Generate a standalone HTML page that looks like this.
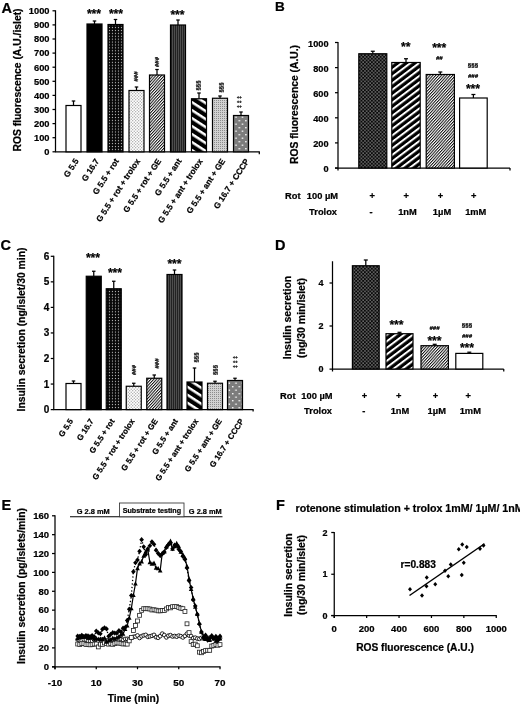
<!DOCTYPE html>
<html><head><meta charset="utf-8"><title>Figure</title>
<style>
html,body{margin:0;padding:0;background:#fff;}
svg{display:block;filter:grayscale(1) blur(0.42px);}
text{font-family:"Liberation Sans", Arial, sans-serif;fill:#000;stroke:#000;stroke-width:0.22px;}
</style></head>
<body>
<svg width="520" height="705" viewBox="0 0 520 705">
<rect width="520" height="705" fill="#fff"/>

<defs>
 <!-- black with white dots -->
 <pattern id="pBlkDot" width="3" height="2.9" patternUnits="userSpaceOnUse">
  <rect width="3" height="2.9" fill="#060606"/><rect x="0.9" y="0.9" width="1.15" height="1.15" fill="#b4b4b4"/>
 </pattern>
 <pattern id="pBlkDot2" width="3.5" height="3.5" patternUnits="userSpaceOnUse">
  <rect width="3.5" height="3.5" fill="#0a0a0a"/><rect x="0.3" y="0.3" width="1.25" height="1.25" fill="#a8a8a8"/><rect x="2.05" y="2.05" width="1.25" height="1.25" fill="#a8a8a8"/>
 </pattern>
 <!-- light dotted -->
 <pattern id="pLtDot" width="3" height="3" patternUnits="userSpaceOnUse">
  <rect width="3" height="3" fill="#fff"/><rect x="0.2" y="0.2" width="1.05" height="1.05" fill="#8a8a8a"/><rect x="1.7" y="1.7" width="1.05" height="1.05" fill="#8a8a8a"/>
 </pattern>
 <!-- thin diagonal hatch /// -->
 <pattern id="pThin" width="10" height="2.1" patternUnits="userSpaceOnUse" patternTransform="rotate(-48)">
  <rect width="10" height="2.1" fill="#fff"/><rect y="0" width="10" height="1.0" fill="#111"/>
 </pattern>
 <!-- dark vertical stripes -->
 <pattern id="pDkV" width="2" height="2" patternUnits="userSpaceOnUse">
  <rect width="2" height="2" fill="#222"/><rect x="0" y="0" width="1" height="2" fill="#4e4e4e"/>
 </pattern>
 <!-- thick diagonal \\ -->
 <pattern id="pThickB" width="10" height="6.7" patternUnits="userSpaceOnUse" patternTransform="rotate(33)">
  <rect width="10" height="6.7" fill="#000"/><rect y="0" width="10" height="2.5" fill="#fff"/>
 </pattern>
 <!-- thick diagonal /// -->
 <pattern id="pThickF" width="10" height="5.2" patternUnits="userSpaceOnUse" patternTransform="rotate(-37)">
  <rect width="10" height="5.2" fill="#000"/><rect y="0" width="10" height="2.0" fill="#fff"/>
 </pattern>
 <!-- light gray dotted -->
 <pattern id="pGrayDot" width="2" height="2" patternUnits="userSpaceOnUse">
  <rect width="2" height="2" fill="#d2d2d2"/><rect x="0" y="0" width="1" height="1" fill="#8c8c8c"/>
 </pattern>
 <!-- gray with white dots -->
 <pattern id="pGrayW" width="6.6" height="7" patternUnits="userSpaceOnUse">
  <rect width="6.6" height="7" fill="#7c7c7c"/><rect x="1" y="1" width="1.4" height="1.4" fill="#fff"/><rect x="4.3" y="4.5" width="1.4" height="1.4" fill="#fff"/>
 </pattern>
</defs>

<text x="1.50" y="13.00" font-size="14.5" text-anchor="start" font-weight="bold">A</text>
<line x1="55.50" y1="10.30" x2="55.50" y2="151.80" stroke="#000" stroke-width="1.25"/>
<line x1="55.00" y1="151.80" x2="259.80" y2="151.80" stroke="#000" stroke-width="1.25"/>
<line x1="259.30" y1="151.80" x2="259.30" y2="154.30" stroke="#000" stroke-width="1.25"/>
<line x1="52.50" y1="151.80" x2="55.50" y2="151.80" stroke="#000" stroke-width="1.25"/>
<text x="49.50" y="155.10" font-size="9.3" text-anchor="end" font-weight="bold">0</text>
<line x1="52.50" y1="137.70" x2="55.50" y2="137.70" stroke="#000" stroke-width="1.25"/>
<text x="49.50" y="141.00" font-size="9.3" text-anchor="end" font-weight="bold">100</text>
<line x1="52.50" y1="123.60" x2="55.50" y2="123.60" stroke="#000" stroke-width="1.25"/>
<text x="49.50" y="126.90" font-size="9.3" text-anchor="end" font-weight="bold">200</text>
<line x1="52.50" y1="109.50" x2="55.50" y2="109.50" stroke="#000" stroke-width="1.25"/>
<text x="49.50" y="112.80" font-size="9.3" text-anchor="end" font-weight="bold">300</text>
<line x1="52.50" y1="95.40" x2="55.50" y2="95.40" stroke="#000" stroke-width="1.25"/>
<text x="49.50" y="98.70" font-size="9.3" text-anchor="end" font-weight="bold">400</text>
<line x1="52.50" y1="81.30" x2="55.50" y2="81.30" stroke="#000" stroke-width="1.25"/>
<text x="49.50" y="84.60" font-size="9.3" text-anchor="end" font-weight="bold">500</text>
<line x1="52.50" y1="67.20" x2="55.50" y2="67.20" stroke="#000" stroke-width="1.25"/>
<text x="49.50" y="70.50" font-size="9.3" text-anchor="end" font-weight="bold">600</text>
<line x1="52.50" y1="53.10" x2="55.50" y2="53.10" stroke="#000" stroke-width="1.25"/>
<text x="49.50" y="56.40" font-size="9.3" text-anchor="end" font-weight="bold">700</text>
<line x1="52.50" y1="39.00" x2="55.50" y2="39.00" stroke="#000" stroke-width="1.25"/>
<text x="49.50" y="42.30" font-size="9.3" text-anchor="end" font-weight="bold">800</text>
<line x1="52.50" y1="24.90" x2="55.50" y2="24.90" stroke="#000" stroke-width="1.25"/>
<text x="49.50" y="28.20" font-size="9.3" text-anchor="end" font-weight="bold">900</text>
<line x1="52.50" y1="10.80" x2="55.50" y2="10.80" stroke="#000" stroke-width="1.25"/>
<text x="49.50" y="14.10" font-size="9.3" text-anchor="end" font-weight="bold">1000</text>
<text x="20.50" y="80.00" font-size="10.35" text-anchor="middle" font-weight="bold" transform="rotate(-90 20.50 80.00)">ROS fluorescence (A.U./islet)</text>
<line x1="73.50" y1="105.50" x2="73.50" y2="101.00" stroke="#000" stroke-width="1.25"/>
<line x1="71.75" y1="101.00" x2="75.25" y2="101.00" stroke="#000" stroke-width="1.25"/>
<rect x="66.00" y="105.50" width="15.00" height="46.30" fill="#fff" stroke="#000" stroke-width="1.2"/>
<text x="79.00" y="161.00" font-size="8.3" text-anchor="end" font-weight="bold" transform="rotate(-57 79.00 161.00)">G 5.5</text>
<line x1="94.50" y1="24.00" x2="94.50" y2="21.00" stroke="#000" stroke-width="1.25"/>
<line x1="92.75" y1="21.00" x2="96.25" y2="21.00" stroke="#000" stroke-width="1.25"/>
<rect x="87.00" y="24.00" width="15.00" height="127.80" fill="#000" stroke="#000" stroke-width="1.2"/>
<text x="99.50" y="161.00" font-size="8.3" text-anchor="end" font-weight="bold" transform="rotate(-57 99.50 161.00)">G 16.7</text>
<line x1="115.50" y1="24.50" x2="115.50" y2="19.50" stroke="#000" stroke-width="1.25"/>
<line x1="113.75" y1="19.50" x2="117.25" y2="19.50" stroke="#000" stroke-width="1.25"/>
<rect x="108.00" y="24.50" width="15.00" height="127.30" fill="url(#pBlkDot)" stroke="#000" stroke-width="1.2"/>
<text x="119.20" y="161.00" font-size="8.3" text-anchor="end" font-weight="bold" transform="rotate(-57 119.20 161.00)">G 5.5 + rot</text>
<line x1="136.50" y1="90.50" x2="136.50" y2="87.00" stroke="#000" stroke-width="1.25"/>
<line x1="134.75" y1="87.00" x2="138.25" y2="87.00" stroke="#000" stroke-width="1.25"/>
<rect x="129.00" y="90.50" width="15.00" height="61.30" fill="url(#pLtDot)" stroke="#000" stroke-width="1.2"/>
<text x="140.40" y="161.00" font-size="8.3" text-anchor="end" font-weight="bold" transform="rotate(-57 140.40 161.00)">G 5.5 + rot + trolox</text>
<line x1="157.00" y1="75.00" x2="157.00" y2="69.50" stroke="#000" stroke-width="1.25"/>
<line x1="155.25" y1="69.50" x2="158.75" y2="69.50" stroke="#000" stroke-width="1.25"/>
<rect x="149.50" y="75.00" width="15.00" height="76.80" fill="url(#pThin)" stroke="#000" stroke-width="1.2"/>
<text x="161.50" y="161.00" font-size="8.3" text-anchor="end" font-weight="bold" transform="rotate(-57 161.50 161.00)">G 5.5 + rot + GE</text>
<line x1="178.00" y1="25.00" x2="178.00" y2="20.00" stroke="#000" stroke-width="1.25"/>
<line x1="176.25" y1="20.00" x2="179.75" y2="20.00" stroke="#000" stroke-width="1.25"/>
<rect x="170.50" y="25.00" width="15.00" height="126.80" fill="url(#pDkV)" stroke="#000" stroke-width="1.2"/>
<text x="181.90" y="161.00" font-size="8.3" text-anchor="end" font-weight="bold" transform="rotate(-57 181.90 161.00)">G 5.5 + ant</text>
<line x1="199.00" y1="98.75" x2="199.00" y2="93.00" stroke="#000" stroke-width="1.25"/>
<line x1="197.25" y1="93.00" x2="200.75" y2="93.00" stroke="#000" stroke-width="1.25"/>
<rect x="191.50" y="98.75" width="15.00" height="53.05" fill="url(#pThickB)" stroke="#000" stroke-width="1.2"/>
<text x="202.90" y="161.00" font-size="8.3" text-anchor="end" font-weight="bold" transform="rotate(-57 202.90 161.00)">G 5.5 + ant + trolox</text>
<line x1="220.00" y1="98.25" x2="220.00" y2="96.00" stroke="#000" stroke-width="1.25"/>
<line x1="218.25" y1="96.00" x2="221.75" y2="96.00" stroke="#000" stroke-width="1.25"/>
<rect x="212.50" y="98.25" width="15.00" height="53.55" fill="url(#pGrayDot)" stroke="#000" stroke-width="1.2"/>
<text x="225.50" y="161.00" font-size="8.3" text-anchor="end" font-weight="bold" transform="rotate(-57 225.50 161.00)">G 5.5 + ant + GE</text>
<line x1="241.00" y1="115.50" x2="241.00" y2="112.00" stroke="#000" stroke-width="1.25"/>
<line x1="239.25" y1="112.00" x2="242.75" y2="112.00" stroke="#000" stroke-width="1.25"/>
<rect x="233.50" y="115.50" width="15.00" height="36.30" fill="url(#pGrayW)" stroke="#000" stroke-width="1.2"/>
<text x="249.50" y="161.00" font-size="8.3" text-anchor="end" font-weight="bold" transform="rotate(-57 249.50 161.00)">G 16.7 + CCCP</text>
<text x="94.00" y="18.00" font-size="12.2" text-anchor="middle" font-weight="bold" stroke-width="0.5">***</text>
<text x="116.00" y="18.00" font-size="12.2" text-anchor="middle" font-weight="bold" stroke-width="0.5">***</text>
<text x="177.50" y="18.50" font-size="12.2" text-anchor="middle" font-weight="bold" stroke-width="0.5">***</text>
<text x="138.00" y="76.50" font-size="6" text-anchor="middle" font-weight="bold" transform="rotate(-90 138.00 76.50)" stroke="none" fill="#222">###</text>
<text x="159.00" y="62.00" font-size="6" text-anchor="middle" font-weight="bold" transform="rotate(-90 159.00 62.00)" stroke="none" fill="#222">###</text>
<text x="199.50" y="85.50" font-size="6" text-anchor="middle" font-weight="bold" transform="rotate(-90 199.50 85.50)" stroke="none" fill="#222">§§§</text>
<text x="222.75" y="87.50" font-size="6" text-anchor="middle" font-weight="bold" transform="rotate(-90 222.75 87.50)" stroke="none" fill="#222">§§§</text>
<text x="241.20" y="101.00" font-size="5" text-anchor="middle" font-weight="bold" transform="rotate(-90 241.20 101.00)" letter-spacing="1.9">‡‡‡</text>
<text x="275.00" y="11.20" font-size="13.5" text-anchor="start" font-weight="bold">B</text>
<line x1="338.00" y1="42.00" x2="338.00" y2="170.50" stroke="#000" stroke-width="1.25"/>
<line x1="335.00" y1="168.00" x2="510.00" y2="168.00" stroke="#000" stroke-width="1.25"/>
<line x1="510.00" y1="168.00" x2="510.00" y2="170.50" stroke="#000" stroke-width="1.25"/>
<line x1="335.00" y1="168.00" x2="338.00" y2="168.00" stroke="#000" stroke-width="1.25"/>
<text x="328.50" y="172.20" font-size="9.2" text-anchor="end" font-weight="bold">0</text>
<line x1="335.00" y1="142.90" x2="338.00" y2="142.90" stroke="#000" stroke-width="1.25"/>
<text x="328.50" y="147.10" font-size="9.2" text-anchor="end" font-weight="bold">200</text>
<line x1="335.00" y1="117.80" x2="338.00" y2="117.80" stroke="#000" stroke-width="1.25"/>
<text x="328.50" y="122.00" font-size="9.2" text-anchor="end" font-weight="bold">400</text>
<line x1="335.00" y1="92.70" x2="338.00" y2="92.70" stroke="#000" stroke-width="1.25"/>
<text x="328.50" y="96.90" font-size="9.2" text-anchor="end" font-weight="bold">600</text>
<line x1="335.00" y1="67.60" x2="338.00" y2="67.60" stroke="#000" stroke-width="1.25"/>
<text x="328.50" y="71.80" font-size="9.2" text-anchor="end" font-weight="bold">800</text>
<line x1="335.00" y1="42.50" x2="338.00" y2="42.50" stroke="#000" stroke-width="1.25"/>
<text x="328.50" y="46.70" font-size="9.2" text-anchor="end" font-weight="bold">1000</text>
<text x="297.80" y="104.50" font-size="10.3" text-anchor="middle" font-weight="bold" transform="rotate(-90 297.80 104.50)">ROS fluorescence (A.U.)</text>
<line x1="372.80" y1="53.75" x2="372.80" y2="51.25" stroke="#000" stroke-width="1.25"/>
<line x1="370.80" y1="51.25" x2="374.80" y2="51.25" stroke="#000" stroke-width="1.25"/>
<rect x="358.80" y="53.75" width="28.00" height="114.25" fill="url(#pBlkDot2)" stroke="#000" stroke-width="1.2"/>
<line x1="406.00" y1="62.50" x2="406.00" y2="58.75" stroke="#000" stroke-width="1.25"/>
<line x1="404.00" y1="58.75" x2="408.00" y2="58.75" stroke="#000" stroke-width="1.25"/>
<rect x="391.80" y="62.50" width="28.40" height="105.50" fill="url(#pThickF)" stroke="#000" stroke-width="1.2"/>
<line x1="440.30" y1="74.50" x2="440.30" y2="72.00" stroke="#000" stroke-width="1.25"/>
<line x1="438.30" y1="72.00" x2="442.30" y2="72.00" stroke="#000" stroke-width="1.25"/>
<rect x="426.20" y="74.50" width="28.20" height="93.50" fill="url(#pThin)" stroke="#000" stroke-width="1.2"/>
<line x1="473.40" y1="98.00" x2="473.40" y2="94.50" stroke="#000" stroke-width="1.25"/>
<line x1="471.40" y1="94.50" x2="475.40" y2="94.50" stroke="#000" stroke-width="1.25"/>
<rect x="459.60" y="98.00" width="27.60" height="70.00" fill="#fff" stroke="#000" stroke-width="1.2"/>
<text x="405.75" y="51.00" font-size="12.2" text-anchor="middle" font-weight="bold" stroke-width="0.5">**</text>
<text x="439.25" y="52.20" font-size="12.2" text-anchor="middle" font-weight="bold" stroke-width="0.5">***</text>
<text x="439.25" y="60.30" font-size="6" text-anchor="middle" font-weight="bold" font-style="italic">##</text>
<text x="473.00" y="66.80" font-size="6.2" text-anchor="middle" font-weight="bold">§§§</text>
<text x="473.00" y="78.30" font-size="6" text-anchor="middle" font-weight="bold" font-style="italic">###</text>
<text x="473.00" y="92.50" font-size="12.2" text-anchor="middle" font-weight="bold" stroke-width="0.5">***</text>
<text x="338.00" y="198.70" font-size="9.3" text-anchor="end" font-weight="bold">100 µM</text>
<text x="285.00" y="198.70" font-size="9.3" text-anchor="start" font-weight="bold">Rot</text>
<text x="337.00" y="214.95" font-size="9.3" text-anchor="end" font-weight="bold">Trolox</text>
<text x="372.25" y="198.50" font-size="9.3" text-anchor="middle" font-weight="bold">+</text>
<text x="406.25" y="198.50" font-size="9.3" text-anchor="middle" font-weight="bold">+</text>
<text x="440.50" y="198.50" font-size="9.3" text-anchor="middle" font-weight="bold">+</text>
<text x="473.75" y="198.50" font-size="9.3" text-anchor="middle" font-weight="bold">+</text>
<text x="371.00" y="214.95" font-size="9.3" text-anchor="middle" font-weight="bold">-</text>
<text x="407.50" y="214.95" font-size="9.3" text-anchor="middle" font-weight="bold">1nM</text>
<text x="442.00" y="214.95" font-size="9.3" text-anchor="middle" font-weight="bold">1µM</text>
<text x="475.75" y="214.95" font-size="9.3" text-anchor="middle" font-weight="bold">1mM</text>
<text x="0.50" y="250.00" font-size="14.5" text-anchor="start" font-weight="bold">C</text>
<line x1="53.75" y1="255.80" x2="53.75" y2="409.60" stroke="#000" stroke-width="1.25"/>
<line x1="53.25" y1="409.60" x2="253.60" y2="409.60" stroke="#000" stroke-width="1.25"/>
<line x1="253.10" y1="409.60" x2="253.10" y2="411.60" stroke="#000" stroke-width="1.25"/>
<line x1="50.75" y1="409.60" x2="53.75" y2="409.60" stroke="#000" stroke-width="1.25"/>
<text x="49.30" y="413.10" font-size="10" text-anchor="end" font-weight="bold">0</text>
<line x1="50.75" y1="384.05" x2="53.75" y2="384.05" stroke="#000" stroke-width="1.25"/>
<text x="49.30" y="387.55" font-size="10" text-anchor="end" font-weight="bold">1</text>
<line x1="50.75" y1="358.50" x2="53.75" y2="358.50" stroke="#000" stroke-width="1.25"/>
<text x="49.30" y="362.00" font-size="10" text-anchor="end" font-weight="bold">2</text>
<line x1="50.75" y1="332.95" x2="53.75" y2="332.95" stroke="#000" stroke-width="1.25"/>
<text x="49.30" y="336.45" font-size="10" text-anchor="end" font-weight="bold">3</text>
<line x1="50.75" y1="307.40" x2="53.75" y2="307.40" stroke="#000" stroke-width="1.25"/>
<text x="49.30" y="310.90" font-size="10" text-anchor="end" font-weight="bold">4</text>
<line x1="50.75" y1="281.85" x2="53.75" y2="281.85" stroke="#000" stroke-width="1.25"/>
<text x="49.30" y="285.35" font-size="10" text-anchor="end" font-weight="bold">5</text>
<line x1="50.75" y1="256.30" x2="53.75" y2="256.30" stroke="#000" stroke-width="1.25"/>
<text x="49.30" y="259.80" font-size="10" text-anchor="end" font-weight="bold">6</text>
<text x="24.70" y="329.50" font-size="10.35" text-anchor="middle" font-weight="bold" transform="rotate(-90 24.70 329.50)">Insulin secretion (ng/islet/30 min)</text>
<line x1="73.50" y1="383.50" x2="73.50" y2="381.00" stroke="#000" stroke-width="1.25"/>
<line x1="71.75" y1="381.00" x2="75.25" y2="381.00" stroke="#000" stroke-width="1.25"/>
<rect x="66.00" y="383.50" width="15.00" height="26.10" fill="#fff" stroke="#000" stroke-width="1.2"/>
<text x="73.50" y="421.10" font-size="8.0" text-anchor="end" font-weight="bold" transform="rotate(-57 73.50 421.10)">G 5.5</text>
<line x1="93.75" y1="276.25" x2="93.75" y2="271.25" stroke="#000" stroke-width="1.25"/>
<line x1="92.00" y1="271.25" x2="95.50" y2="271.25" stroke="#000" stroke-width="1.25"/>
<rect x="86.25" y="276.25" width="15.00" height="133.35" fill="#000" stroke="#000" stroke-width="1.2"/>
<text x="94.05" y="421.10" font-size="8.0" text-anchor="end" font-weight="bold" transform="rotate(-57 94.05 421.10)">G 16.7</text>
<line x1="113.75" y1="288.75" x2="113.75" y2="281.25" stroke="#000" stroke-width="1.25"/>
<line x1="112.00" y1="281.25" x2="115.50" y2="281.25" stroke="#000" stroke-width="1.25"/>
<rect x="106.25" y="288.75" width="15.00" height="120.85" fill="url(#pBlkDot)" stroke="#000" stroke-width="1.2"/>
<text x="114.95" y="421.10" font-size="8.0" text-anchor="end" font-weight="bold" transform="rotate(-57 114.95 421.10)">G 5.5 + rot</text>
<line x1="133.75" y1="386.25" x2="133.75" y2="383.25" stroke="#000" stroke-width="1.25"/>
<line x1="132.00" y1="383.25" x2="135.50" y2="383.25" stroke="#000" stroke-width="1.25"/>
<rect x="126.25" y="386.25" width="15.00" height="23.35" fill="url(#pLtDot)" stroke="#000" stroke-width="1.2"/>
<text x="134.95" y="421.10" font-size="8.0" text-anchor="end" font-weight="bold" transform="rotate(-57 134.95 421.10)">G 5.5 + rot + trolox</text>
<line x1="154.25" y1="378.25" x2="154.25" y2="375.00" stroke="#000" stroke-width="1.25"/>
<line x1="152.50" y1="375.00" x2="156.00" y2="375.00" stroke="#000" stroke-width="1.25"/>
<rect x="146.75" y="378.25" width="15.00" height="31.35" fill="url(#pThin)" stroke="#000" stroke-width="1.2"/>
<text x="158.05" y="421.10" font-size="8.0" text-anchor="end" font-weight="bold" transform="rotate(-57 158.05 421.10)">G 5.5 + rot + GE</text>
<line x1="174.50" y1="274.50" x2="174.50" y2="270.00" stroke="#000" stroke-width="1.25"/>
<line x1="172.75" y1="270.00" x2="176.25" y2="270.00" stroke="#000" stroke-width="1.25"/>
<rect x="167.00" y="274.50" width="15.00" height="135.10" fill="url(#pDkV)" stroke="#000" stroke-width="1.2"/>
<text x="178.30" y="421.10" font-size="8.0" text-anchor="end" font-weight="bold" transform="rotate(-57 178.30 421.10)">G 5.5 + ant</text>
<line x1="194.50" y1="382.00" x2="194.50" y2="368.00" stroke="#000" stroke-width="1.25"/>
<line x1="192.75" y1="368.00" x2="196.25" y2="368.00" stroke="#000" stroke-width="1.25"/>
<rect x="187.00" y="382.00" width="15.00" height="27.60" fill="url(#pThickB)" stroke="#000" stroke-width="1.2"/>
<text x="198.70" y="421.10" font-size="8.0" text-anchor="end" font-weight="bold" transform="rotate(-57 198.70 421.10)">G 5.5 + ant + trolox</text>
<line x1="215.00" y1="383.25" x2="215.00" y2="381.25" stroke="#000" stroke-width="1.25"/>
<line x1="213.25" y1="381.25" x2="216.75" y2="381.25" stroke="#000" stroke-width="1.25"/>
<rect x="207.50" y="383.25" width="15.00" height="26.35" fill="url(#pGrayDot)" stroke="#000" stroke-width="1.2"/>
<text x="222.20" y="421.10" font-size="8.0" text-anchor="end" font-weight="bold" transform="rotate(-57 222.20 421.10)">G 5.5 + ant + GE</text>
<line x1="235.00" y1="380.50" x2="235.00" y2="378.25" stroke="#000" stroke-width="1.25"/>
<line x1="233.25" y1="378.25" x2="236.75" y2="378.25" stroke="#000" stroke-width="1.25"/>
<rect x="227.50" y="380.50" width="15.00" height="29.10" fill="url(#pGrayW)" stroke="#000" stroke-width="1.2"/>
<text x="244.20" y="421.10" font-size="8.0" text-anchor="end" font-weight="bold" transform="rotate(-57 244.20 421.10)">G 16.7 + CCCP</text>
<text x="93.00" y="262.00" font-size="12.2" text-anchor="middle" font-weight="bold" stroke-width="0.5">***</text>
<text x="115.00" y="277.00" font-size="12.2" text-anchor="middle" font-weight="bold" stroke-width="0.5">***</text>
<text x="174.50" y="267.50" font-size="12.2" text-anchor="middle" font-weight="bold" stroke-width="0.5">***</text>
<text x="136.20" y="370.00" font-size="6" text-anchor="middle" font-weight="bold" transform="rotate(-90 136.20 370.00)" stroke="none" fill="#222">###</text>
<text x="159.00" y="363.50" font-size="6" text-anchor="middle" font-weight="bold" transform="rotate(-90 159.00 363.50)" stroke="none" fill="#222">###</text>
<text x="198.25" y="357.50" font-size="6" text-anchor="middle" font-weight="bold" transform="rotate(-90 198.25 357.50)" stroke="none" fill="#222">§§§</text>
<text x="217.00" y="370.00" font-size="6" text-anchor="middle" font-weight="bold" transform="rotate(-90 217.00 370.00)" stroke="none" fill="#222">§§§</text>
<text x="236.70" y="361.00" font-size="5" text-anchor="middle" font-weight="bold" transform="rotate(-90 236.70 361.00)" letter-spacing="1.9">‡‡‡</text>
<text x="275.00" y="250.00" font-size="14.5" text-anchor="start" font-weight="bold">D</text>
<line x1="332.50" y1="261.25" x2="332.50" y2="371.50" stroke="#000" stroke-width="1.25"/>
<line x1="329.50" y1="369.00" x2="503.75" y2="369.00" stroke="#000" stroke-width="1.25"/>
<line x1="503.75" y1="369.00" x2="503.75" y2="371.50" stroke="#000" stroke-width="1.25"/>
<line x1="329.50" y1="326.00" x2="332.50" y2="326.00" stroke="#000" stroke-width="1.25"/>
<text x="323.50" y="329.20" font-size="9" text-anchor="end" font-weight="bold">2</text>
<line x1="329.50" y1="283.00" x2="332.50" y2="283.00" stroke="#000" stroke-width="1.25"/>
<text x="323.50" y="286.20" font-size="9" text-anchor="end" font-weight="bold">4</text>
<text x="323.50" y="372.20" font-size="9" text-anchor="end" font-weight="bold">0</text>
<text x="291.30" y="317.50" font-size="10.5" text-anchor="middle" font-weight="bold" transform="rotate(-90 291.30 317.50)">Insulin secretion</text>
<text x="304.60" y="318.00" font-size="10.5" text-anchor="middle" font-weight="bold" transform="rotate(-90 304.60 318.00)">(ng/30 min/islet)</text>
<line x1="365.80" y1="265.75" x2="365.80" y2="260.00" stroke="#000" stroke-width="1.25"/>
<line x1="363.80" y1="260.00" x2="367.80" y2="260.00" stroke="#000" stroke-width="1.25"/>
<rect x="352.40" y="265.75" width="26.80" height="103.25" fill="url(#pBlkDot2)" stroke="#000" stroke-width="1.2"/>
<line x1="399.50" y1="333.70" x2="399.50" y2="332.30" stroke="#000" stroke-width="1.25"/>
<line x1="397.50" y1="332.30" x2="401.50" y2="332.30" stroke="#000" stroke-width="1.25"/>
<rect x="386.00" y="333.70" width="27.00" height="35.30" fill="url(#pThickF)" stroke="#000" stroke-width="1.2"/>
<line x1="434.70" y1="345.70" x2="434.70" y2="344.30" stroke="#000" stroke-width="1.25"/>
<line x1="432.70" y1="344.30" x2="436.70" y2="344.30" stroke="#000" stroke-width="1.25"/>
<rect x="421.00" y="345.70" width="27.40" height="23.30" fill="url(#pThin)" stroke="#000" stroke-width="1.2"/>
<line x1="469.30" y1="353.40" x2="469.30" y2="352.20" stroke="#000" stroke-width="1.25"/>
<line x1="467.30" y1="352.20" x2="471.30" y2="352.20" stroke="#000" stroke-width="1.25"/>
<rect x="455.80" y="353.40" width="27.00" height="15.60" fill="#fff" stroke="#000" stroke-width="1.2"/>
<text x="396.50" y="329.20" font-size="12.2" text-anchor="middle" font-weight="bold" stroke-width="0.5">***</text>
<text x="434.50" y="329.50" font-size="6" text-anchor="middle" font-weight="bold" font-style="italic">###</text>
<text x="434.50" y="345.40" font-size="12.2" text-anchor="middle" font-weight="bold" stroke-width="0.5">***</text>
<text x="467.00" y="327.00" font-size="6.2" text-anchor="middle" font-weight="bold">§§§</text>
<text x="467.00" y="338.30" font-size="6" text-anchor="middle" font-weight="bold" font-style="italic">###</text>
<text x="467.00" y="352.40" font-size="12.2" text-anchor="middle" font-weight="bold" stroke-width="0.5">***</text>
<text x="332.50" y="398.95" font-size="9.3" text-anchor="end" font-weight="bold">100 µM</text>
<text x="280.00" y="398.95" font-size="9.3" text-anchor="start" font-weight="bold">Rot</text>
<text x="332.00" y="414.45" font-size="9.3" text-anchor="end" font-weight="bold">Trolox</text>
<text x="364.50" y="398.75" font-size="9.3" text-anchor="middle" font-weight="bold">+</text>
<text x="398.75" y="398.75" font-size="9.3" text-anchor="middle" font-weight="bold">+</text>
<text x="435.50" y="398.75" font-size="9.3" text-anchor="middle" font-weight="bold">+</text>
<text x="468.25" y="398.75" font-size="9.3" text-anchor="middle" font-weight="bold">+</text>
<text x="363.75" y="414.45" font-size="9.3" text-anchor="middle" font-weight="bold">-</text>
<text x="400.00" y="414.45" font-size="9.3" text-anchor="middle" font-weight="bold">1nM</text>
<text x="436.75" y="414.45" font-size="9.3" text-anchor="middle" font-weight="bold">1µM</text>
<text x="470.30" y="414.45" font-size="9.3" text-anchor="middle" font-weight="bold">1mM</text>
<text x="1.50" y="510.00" font-size="14.5" text-anchor="start" font-weight="bold">E</text>
<line x1="55.00" y1="515.29" x2="55.00" y2="669.25" stroke="#000" stroke-width="1.25"/>
<line x1="52.00" y1="666.75" x2="220.50" y2="666.75" stroke="#000" stroke-width="1.25"/>
<line x1="52.00" y1="666.75" x2="55.00" y2="666.75" stroke="#000" stroke-width="1.25"/>
<text x="49.00" y="670.05" font-size="9.5" text-anchor="end" font-weight="bold">0</text>
<line x1="52.00" y1="647.88" x2="55.00" y2="647.88" stroke="#000" stroke-width="1.25"/>
<text x="49.00" y="651.18" font-size="9.5" text-anchor="end" font-weight="bold">20</text>
<line x1="52.00" y1="629.01" x2="55.00" y2="629.01" stroke="#000" stroke-width="1.25"/>
<text x="49.00" y="632.31" font-size="9.5" text-anchor="end" font-weight="bold">40</text>
<line x1="52.00" y1="610.14" x2="55.00" y2="610.14" stroke="#000" stroke-width="1.25"/>
<text x="49.00" y="613.44" font-size="9.5" text-anchor="end" font-weight="bold">60</text>
<line x1="52.00" y1="591.27" x2="55.00" y2="591.27" stroke="#000" stroke-width="1.25"/>
<text x="49.00" y="594.57" font-size="9.5" text-anchor="end" font-weight="bold">80</text>
<line x1="52.00" y1="572.40" x2="55.00" y2="572.40" stroke="#000" stroke-width="1.25"/>
<text x="49.00" y="575.70" font-size="9.5" text-anchor="end" font-weight="bold">100</text>
<line x1="52.00" y1="553.53" x2="55.00" y2="553.53" stroke="#000" stroke-width="1.25"/>
<text x="49.00" y="556.83" font-size="9.5" text-anchor="end" font-weight="bold">120</text>
<line x1="52.00" y1="534.66" x2="55.00" y2="534.66" stroke="#000" stroke-width="1.25"/>
<text x="49.00" y="537.96" font-size="9.5" text-anchor="end" font-weight="bold">140</text>
<line x1="52.00" y1="515.79" x2="55.00" y2="515.79" stroke="#000" stroke-width="1.25"/>
<text x="49.00" y="519.09" font-size="9.5" text-anchor="end" font-weight="bold">160</text>
<line x1="55.00" y1="666.75" x2="55.00" y2="669.25" stroke="#000" stroke-width="1.25"/>
<text x="55.00" y="686.00" font-size="9.9" text-anchor="middle" font-weight="bold">-10</text>
<line x1="96.25" y1="666.75" x2="96.25" y2="669.25" stroke="#000" stroke-width="1.25"/>
<text x="96.25" y="686.00" font-size="9.9" text-anchor="middle" font-weight="bold">10</text>
<line x1="137.50" y1="666.75" x2="137.50" y2="669.25" stroke="#000" stroke-width="1.25"/>
<text x="137.50" y="686.00" font-size="9.9" text-anchor="middle" font-weight="bold">30</text>
<line x1="178.75" y1="666.75" x2="178.75" y2="669.25" stroke="#000" stroke-width="1.25"/>
<text x="178.75" y="686.00" font-size="9.9" text-anchor="middle" font-weight="bold">50</text>
<line x1="220.00" y1="666.75" x2="220.00" y2="669.25" stroke="#000" stroke-width="1.25"/>
<text x="220.00" y="686.00" font-size="9.9" text-anchor="middle" font-weight="bold">70</text>
<text x="133.50" y="702.00" font-size="10.2" text-anchor="middle" font-weight="bold">Time (min)</text>
<text x="24.70" y="586.00" font-size="10.4" text-anchor="middle" font-weight="bold" transform="rotate(-90 24.70 586.00)">Insulin secretion (pg/islets/min)</text>
<line x1="70.00" y1="516.75" x2="222.50" y2="516.75" stroke="#000" stroke-width="1"/>
<rect x="119.5" y="503" width="64.5" height="13.75" fill="#fff" stroke="#333" stroke-width="0.85"/>
<text x="93.25" y="514.30" font-size="7.4" text-anchor="middle" font-weight="bold">G 2.8 mM</text>
<text x="151.90" y="512.50" font-size="7.15" text-anchor="middle" font-weight="bold">Substrate testing</text>
<text x="205.30" y="514.30" font-size="7.4" text-anchor="middle" font-weight="bold">G 2.8 mM</text>
<circle cx="77.69" cy="639.53" r="1.9" fill="#fff" stroke="#000" stroke-width="0.85"/>
<circle cx="79.75" cy="640.51" r="1.9" fill="#fff" stroke="#000" stroke-width="0.85"/>
<circle cx="81.81" cy="640.50" r="1.9" fill="#fff" stroke="#000" stroke-width="0.85"/>
<circle cx="83.88" cy="639.57" r="1.9" fill="#fff" stroke="#000" stroke-width="0.85"/>
<circle cx="85.94" cy="639.95" r="1.9" fill="#fff" stroke="#000" stroke-width="0.85"/>
<circle cx="88.00" cy="640.89" r="1.9" fill="#fff" stroke="#000" stroke-width="0.85"/>
<circle cx="90.06" cy="640.97" r="1.9" fill="#fff" stroke="#000" stroke-width="0.85"/>
<circle cx="92.12" cy="640.92" r="1.9" fill="#fff" stroke="#000" stroke-width="0.85"/>
<circle cx="94.19" cy="639.64" r="1.9" fill="#fff" stroke="#000" stroke-width="0.85"/>
<circle cx="96.25" cy="639.81" r="1.9" fill="#fff" stroke="#000" stroke-width="0.85"/>
<circle cx="98.31" cy="640.93" r="1.9" fill="#fff" stroke="#000" stroke-width="0.85"/>
<circle cx="100.38" cy="639.78" r="1.9" fill="#fff" stroke="#000" stroke-width="0.85"/>
<circle cx="102.44" cy="639.52" r="1.9" fill="#fff" stroke="#000" stroke-width="0.85"/>
<circle cx="104.50" cy="640.06" r="1.9" fill="#fff" stroke="#000" stroke-width="0.85"/>
<circle cx="106.56" cy="640.59" r="1.9" fill="#fff" stroke="#000" stroke-width="0.85"/>
<circle cx="108.62" cy="640.25" r="1.9" fill="#fff" stroke="#000" stroke-width="0.85"/>
<circle cx="110.69" cy="640.96" r="1.9" fill="#fff" stroke="#000" stroke-width="0.85"/>
<circle cx="112.75" cy="641.16" r="1.9" fill="#fff" stroke="#000" stroke-width="0.85"/>
<circle cx="114.81" cy="639.53" r="1.9" fill="#fff" stroke="#000" stroke-width="0.85"/>
<circle cx="116.88" cy="640.08" r="1.9" fill="#fff" stroke="#000" stroke-width="0.85"/>
<circle cx="118.94" cy="640.10" r="1.9" fill="#fff" stroke="#000" stroke-width="0.85"/>
<circle cx="121.00" cy="639.22" r="1.9" fill="#fff" stroke="#000" stroke-width="0.85"/>
<circle cx="123.06" cy="639.88" r="1.9" fill="#fff" stroke="#000" stroke-width="0.85"/>
<circle cx="125.12" cy="638.95" r="1.9" fill="#fff" stroke="#000" stroke-width="0.85"/>
<circle cx="127.19" cy="638.83" r="1.9" fill="#fff" stroke="#000" stroke-width="0.85"/>
<circle cx="129.25" cy="638.94" r="1.9" fill="#fff" stroke="#000" stroke-width="0.85"/>
<circle cx="131.31" cy="637.92" r="1.9" fill="#fff" stroke="#000" stroke-width="0.85"/>
<circle cx="133.38" cy="636.91" r="1.9" fill="#fff" stroke="#000" stroke-width="0.85"/>
<circle cx="135.44" cy="636.53" r="1.9" fill="#fff" stroke="#000" stroke-width="0.85"/>
<circle cx="137.50" cy="635.47" r="1.9" fill="#fff" stroke="#000" stroke-width="0.85"/>
<circle cx="139.56" cy="637.91" r="1.9" fill="#fff" stroke="#000" stroke-width="0.85"/>
<circle cx="141.62" cy="636.22" r="1.9" fill="#fff" stroke="#000" stroke-width="0.85"/>
<circle cx="143.69" cy="635.30" r="1.9" fill="#fff" stroke="#000" stroke-width="0.85"/>
<circle cx="145.75" cy="634.92" r="1.9" fill="#fff" stroke="#000" stroke-width="0.85"/>
<circle cx="147.81" cy="636.81" r="1.9" fill="#fff" stroke="#000" stroke-width="0.85"/>
<circle cx="149.88" cy="636.31" r="1.9" fill="#fff" stroke="#000" stroke-width="0.85"/>
<circle cx="151.94" cy="635.79" r="1.9" fill="#fff" stroke="#000" stroke-width="0.85"/>
<circle cx="154.00" cy="634.93" r="1.9" fill="#fff" stroke="#000" stroke-width="0.85"/>
<circle cx="156.06" cy="637.16" r="1.9" fill="#fff" stroke="#000" stroke-width="0.85"/>
<circle cx="158.12" cy="637.74" r="1.9" fill="#fff" stroke="#000" stroke-width="0.85"/>
<circle cx="160.19" cy="636.08" r="1.9" fill="#fff" stroke="#000" stroke-width="0.85"/>
<circle cx="162.25" cy="633.67" r="1.9" fill="#fff" stroke="#000" stroke-width="0.85"/>
<circle cx="164.31" cy="635.10" r="1.9" fill="#fff" stroke="#000" stroke-width="0.85"/>
<circle cx="166.38" cy="637.38" r="1.9" fill="#fff" stroke="#000" stroke-width="0.85"/>
<circle cx="168.44" cy="635.72" r="1.9" fill="#fff" stroke="#000" stroke-width="0.85"/>
<circle cx="170.50" cy="635.21" r="1.9" fill="#fff" stroke="#000" stroke-width="0.85"/>
<circle cx="172.56" cy="636.46" r="1.9" fill="#fff" stroke="#000" stroke-width="0.85"/>
<circle cx="174.62" cy="636.05" r="1.9" fill="#fff" stroke="#000" stroke-width="0.85"/>
<circle cx="176.69" cy="636.64" r="1.9" fill="#fff" stroke="#000" stroke-width="0.85"/>
<circle cx="178.75" cy="635.66" r="1.9" fill="#fff" stroke="#000" stroke-width="0.85"/>
<circle cx="180.81" cy="636.18" r="1.9" fill="#fff" stroke="#000" stroke-width="0.85"/>
<circle cx="182.88" cy="637.41" r="1.9" fill="#fff" stroke="#000" stroke-width="0.85"/>
<circle cx="184.94" cy="635.91" r="1.9" fill="#fff" stroke="#000" stroke-width="0.85"/>
<circle cx="187.00" cy="633.70" r="1.9" fill="#fff" stroke="#000" stroke-width="0.85"/>
<circle cx="189.06" cy="635.52" r="1.9" fill="#fff" stroke="#000" stroke-width="0.85"/>
<circle cx="191.12" cy="636.08" r="1.9" fill="#fff" stroke="#000" stroke-width="0.85"/>
<circle cx="193.19" cy="638.17" r="1.9" fill="#fff" stroke="#000" stroke-width="0.85"/>
<circle cx="195.25" cy="637.71" r="1.9" fill="#fff" stroke="#000" stroke-width="0.85"/>
<circle cx="197.31" cy="638.56" r="1.9" fill="#fff" stroke="#000" stroke-width="0.85"/>
<circle cx="199.38" cy="638.82" r="1.9" fill="#fff" stroke="#000" stroke-width="0.85"/>
<circle cx="201.44" cy="637.98" r="1.9" fill="#fff" stroke="#000" stroke-width="0.85"/>
<circle cx="203.50" cy="638.43" r="1.9" fill="#fff" stroke="#000" stroke-width="0.85"/>
<circle cx="205.56" cy="638.34" r="1.9" fill="#fff" stroke="#000" stroke-width="0.85"/>
<circle cx="207.62" cy="638.00" r="1.9" fill="#fff" stroke="#000" stroke-width="0.85"/>
<circle cx="209.69" cy="637.74" r="1.9" fill="#fff" stroke="#000" stroke-width="0.85"/>
<circle cx="211.75" cy="638.54" r="1.9" fill="#fff" stroke="#000" stroke-width="0.85"/>
<circle cx="213.81" cy="638.25" r="1.9" fill="#fff" stroke="#000" stroke-width="0.85"/>
<circle cx="215.88" cy="638.44" r="1.9" fill="#fff" stroke="#000" stroke-width="0.85"/>
<circle cx="217.94" cy="638.42" r="1.9" fill="#fff" stroke="#000" stroke-width="0.85"/>
<circle cx="220.00" cy="638.12" r="1.9" fill="#fff" stroke="#000" stroke-width="0.85"/>
<rect x="75.74" y="642.08" width="3.9" height="3.9" fill="#fff" stroke="#222" stroke-width="0.8"/>
<rect x="77.80" y="642.63" width="3.9" height="3.9" fill="#fff" stroke="#222" stroke-width="0.8"/>
<rect x="79.86" y="641.72" width="3.9" height="3.9" fill="#fff" stroke="#222" stroke-width="0.8"/>
<rect x="81.92" y="641.69" width="3.9" height="3.9" fill="#fff" stroke="#222" stroke-width="0.8"/>
<rect x="83.99" y="642.68" width="3.9" height="3.9" fill="#fff" stroke="#222" stroke-width="0.8"/>
<rect x="86.05" y="642.46" width="3.9" height="3.9" fill="#fff" stroke="#222" stroke-width="0.8"/>
<rect x="88.11" y="642.88" width="3.9" height="3.9" fill="#fff" stroke="#222" stroke-width="0.8"/>
<rect x="90.17" y="642.66" width="3.9" height="3.9" fill="#fff" stroke="#222" stroke-width="0.8"/>
<rect x="92.24" y="642.11" width="3.9" height="3.9" fill="#fff" stroke="#222" stroke-width="0.8"/>
<rect x="94.30" y="642.04" width="3.9" height="3.9" fill="#fff" stroke="#222" stroke-width="0.8"/>
<rect x="96.36" y="644.96" width="3.9" height="3.9" fill="#fff" stroke="#222" stroke-width="0.8"/>
<rect x="98.42" y="642.20" width="3.9" height="3.9" fill="#fff" stroke="#222" stroke-width="0.8"/>
<rect x="100.49" y="642.40" width="3.9" height="3.9" fill="#fff" stroke="#222" stroke-width="0.8"/>
<rect x="102.55" y="641.00" width="3.9" height="3.9" fill="#fff" stroke="#222" stroke-width="0.8"/>
<rect x="104.61" y="641.64" width="3.9" height="3.9" fill="#fff" stroke="#222" stroke-width="0.8"/>
<rect x="106.67" y="642.22" width="3.9" height="3.9" fill="#fff" stroke="#222" stroke-width="0.8"/>
<rect x="108.74" y="641.62" width="3.9" height="3.9" fill="#fff" stroke="#222" stroke-width="0.8"/>
<rect x="110.80" y="642.40" width="3.9" height="3.9" fill="#fff" stroke="#222" stroke-width="0.8"/>
<rect x="112.86" y="641.64" width="3.9" height="3.9" fill="#fff" stroke="#222" stroke-width="0.8"/>
<rect x="114.92" y="640.96" width="3.9" height="3.9" fill="#fff" stroke="#222" stroke-width="0.8"/>
<rect x="116.99" y="641.14" width="3.9" height="3.9" fill="#fff" stroke="#222" stroke-width="0.8"/>
<rect x="119.05" y="641.39" width="3.9" height="3.9" fill="#fff" stroke="#222" stroke-width="0.8"/>
<rect x="121.11" y="642.04" width="3.9" height="3.9" fill="#fff" stroke="#222" stroke-width="0.8"/>
<rect x="123.17" y="641.89" width="3.9" height="3.9" fill="#fff" stroke="#222" stroke-width="0.8"/>
<rect x="125.24" y="642.19" width="3.9" height="3.9" fill="#fff" stroke="#222" stroke-width="0.8"/>
<rect x="127.30" y="638.91" width="3.9" height="3.9" fill="#fff" stroke="#222" stroke-width="0.8"/>
<rect x="129.36" y="635.50" width="3.9" height="3.9" fill="#fff" stroke="#222" stroke-width="0.8"/>
<rect x="131.43" y="628.53" width="3.9" height="3.9" fill="#fff" stroke="#222" stroke-width="0.8"/>
<rect x="133.49" y="623.54" width="3.9" height="3.9" fill="#fff" stroke="#222" stroke-width="0.8"/>
<rect x="135.55" y="618.99" width="3.9" height="3.9" fill="#fff" stroke="#222" stroke-width="0.8"/>
<rect x="137.61" y="613.38" width="3.9" height="3.9" fill="#fff" stroke="#222" stroke-width="0.8"/>
<rect x="139.68" y="608.40" width="3.9" height="3.9" fill="#fff" stroke="#222" stroke-width="0.8"/>
<rect x="141.74" y="606.71" width="3.9" height="3.9" fill="#fff" stroke="#222" stroke-width="0.8"/>
<rect x="143.80" y="606.78" width="3.9" height="3.9" fill="#fff" stroke="#222" stroke-width="0.8"/>
<rect x="145.86" y="606.77" width="3.9" height="3.9" fill="#fff" stroke="#222" stroke-width="0.8"/>
<rect x="147.93" y="607.07" width="3.9" height="3.9" fill="#fff" stroke="#222" stroke-width="0.8"/>
<rect x="149.99" y="608.04" width="3.9" height="3.9" fill="#fff" stroke="#222" stroke-width="0.8"/>
<rect x="152.05" y="607.79" width="3.9" height="3.9" fill="#fff" stroke="#222" stroke-width="0.8"/>
<rect x="154.11" y="608.22" width="3.9" height="3.9" fill="#fff" stroke="#222" stroke-width="0.8"/>
<rect x="156.18" y="608.90" width="3.9" height="3.9" fill="#fff" stroke="#222" stroke-width="0.8"/>
<rect x="158.24" y="608.90" width="3.9" height="3.9" fill="#fff" stroke="#222" stroke-width="0.8"/>
<rect x="160.30" y="608.52" width="3.9" height="3.9" fill="#fff" stroke="#222" stroke-width="0.8"/>
<rect x="162.36" y="608.55" width="3.9" height="3.9" fill="#fff" stroke="#222" stroke-width="0.8"/>
<rect x="164.43" y="606.96" width="3.9" height="3.9" fill="#fff" stroke="#222" stroke-width="0.8"/>
<rect x="166.49" y="605.61" width="3.9" height="3.9" fill="#fff" stroke="#222" stroke-width="0.8"/>
<rect x="168.55" y="605.91" width="3.9" height="3.9" fill="#fff" stroke="#222" stroke-width="0.8"/>
<rect x="170.61" y="604.70" width="3.9" height="3.9" fill="#fff" stroke="#222" stroke-width="0.8"/>
<rect x="172.68" y="604.62" width="3.9" height="3.9" fill="#fff" stroke="#222" stroke-width="0.8"/>
<rect x="174.74" y="604.67" width="3.9" height="3.9" fill="#fff" stroke="#222" stroke-width="0.8"/>
<rect x="176.80" y="605.56" width="3.9" height="3.9" fill="#fff" stroke="#222" stroke-width="0.8"/>
<rect x="178.86" y="606.25" width="3.9" height="3.9" fill="#fff" stroke="#222" stroke-width="0.8"/>
<rect x="180.93" y="606.72" width="3.9" height="3.9" fill="#fff" stroke="#222" stroke-width="0.8"/>
<rect x="182.99" y="609.59" width="3.9" height="3.9" fill="#fff" stroke="#222" stroke-width="0.8"/>
<rect x="185.05" y="621.85" width="3.9" height="3.9" fill="#fff" stroke="#222" stroke-width="0.8"/>
<rect x="187.11" y="630.65" width="3.9" height="3.9" fill="#fff" stroke="#222" stroke-width="0.8"/>
<rect x="189.18" y="639.66" width="3.9" height="3.9" fill="#fff" stroke="#222" stroke-width="0.8"/>
<rect x="191.24" y="642.59" width="3.9" height="3.9" fill="#fff" stroke="#222" stroke-width="0.8"/>
<rect x="193.30" y="642.19" width="3.9" height="3.9" fill="#fff" stroke="#222" stroke-width="0.8"/>
<rect x="195.36" y="643.81" width="3.9" height="3.9" fill="#fff" stroke="#222" stroke-width="0.8"/>
<rect x="197.43" y="650.20" width="3.9" height="3.9" fill="#fff" stroke="#222" stroke-width="0.8"/>
<rect x="199.49" y="650.80" width="3.9" height="3.9" fill="#fff" stroke="#222" stroke-width="0.8"/>
<rect x="201.55" y="649.46" width="3.9" height="3.9" fill="#fff" stroke="#222" stroke-width="0.8"/>
<rect x="203.61" y="648.61" width="3.9" height="3.9" fill="#fff" stroke="#222" stroke-width="0.8"/>
<rect x="205.68" y="648.33" width="3.9" height="3.9" fill="#fff" stroke="#222" stroke-width="0.8"/>
<rect x="207.74" y="648.38" width="3.9" height="3.9" fill="#fff" stroke="#222" stroke-width="0.8"/>
<rect x="209.80" y="644.08" width="3.9" height="3.9" fill="#fff" stroke="#222" stroke-width="0.8"/>
<rect x="211.86" y="643.58" width="3.9" height="3.9" fill="#fff" stroke="#222" stroke-width="0.8"/>
<rect x="213.93" y="642.66" width="3.9" height="3.9" fill="#fff" stroke="#222" stroke-width="0.8"/>
<rect x="215.99" y="643.35" width="3.9" height="3.9" fill="#fff" stroke="#222" stroke-width="0.8"/>
<rect x="218.05" y="642.65" width="3.9" height="3.9" fill="#fff" stroke="#222" stroke-width="0.8"/>
<polyline fill="none" stroke="#000" stroke-width="1.3" stroke-dasharray="1.3 2.2" points="77.69,636.03 79.75,636.44 81.81,635.26 83.88,636.62 85.94,635.53 88.00,635.93 90.06,636.66 92.12,635.60 94.19,636.71 96.25,631.05 98.31,632.86 100.38,633.75 102.44,629.19 104.50,627.77 106.56,628.95 108.62,636.27 110.69,634.37 112.75,632.67 114.81,633.07 116.88,633.03 118.94,630.72 121.00,631.97 123.06,628.16 125.12,627.62 127.19,620.41 129.25,609.15 131.31,595.50 133.38,571.65 135.44,562.77 137.50,559.94 139.56,551.32 141.62,539.68 143.69,546.81 145.75,554.56 147.81,548.91 149.88,545.73 151.94,541.78 154.00,544.27 156.06,550.19 158.12,553.33 160.19,555.53 162.25,554.00 164.31,551.89 166.38,547.40 168.44,544.70 170.50,542.98 172.56,548.75 174.62,545.10 176.69,545.44 178.75,549.31 180.81,551.45 182.88,556.32 184.94,559.38 187.00,568.02 189.06,580.77 191.12,587.52 193.19,599.90 195.25,605.97 197.31,614.23 199.38,624.12 201.44,631.90 203.50,637.94 205.56,635.15 207.62,640.11 209.69,638.26 211.75,635.72 213.81,638.59 215.88,636.45 217.94,640.39 220.00,636.17"/>
<path d="M77.69 633.43 l2.3 2.6 l-2.3 2.6 l-2.3 -2.6z" fill="#000"/>
<path d="M79.75 633.84 l2.3 2.6 l-2.3 2.6 l-2.3 -2.6z" fill="#000"/>
<path d="M81.81 632.66 l2.3 2.6 l-2.3 2.6 l-2.3 -2.6z" fill="#000"/>
<path d="M83.88 634.02 l2.3 2.6 l-2.3 2.6 l-2.3 -2.6z" fill="#000"/>
<path d="M85.94 632.93 l2.3 2.6 l-2.3 2.6 l-2.3 -2.6z" fill="#000"/>
<path d="M88.00 633.33 l2.3 2.6 l-2.3 2.6 l-2.3 -2.6z" fill="#000"/>
<path d="M90.06 634.06 l2.3 2.6 l-2.3 2.6 l-2.3 -2.6z" fill="#000"/>
<path d="M92.12 633.00 l2.3 2.6 l-2.3 2.6 l-2.3 -2.6z" fill="#000"/>
<path d="M94.19 634.11 l2.3 2.6 l-2.3 2.6 l-2.3 -2.6z" fill="#000"/>
<path d="M96.25 628.45 l2.3 2.6 l-2.3 2.6 l-2.3 -2.6z" fill="#000"/>
<path d="M98.31 630.26 l2.3 2.6 l-2.3 2.6 l-2.3 -2.6z" fill="#000"/>
<path d="M100.38 631.15 l2.3 2.6 l-2.3 2.6 l-2.3 -2.6z" fill="#000"/>
<path d="M102.44 626.59 l2.3 2.6 l-2.3 2.6 l-2.3 -2.6z" fill="#000"/>
<path d="M104.50 625.17 l2.3 2.6 l-2.3 2.6 l-2.3 -2.6z" fill="#000"/>
<path d="M106.56 626.35 l2.3 2.6 l-2.3 2.6 l-2.3 -2.6z" fill="#000"/>
<path d="M108.62 633.67 l2.3 2.6 l-2.3 2.6 l-2.3 -2.6z" fill="#000"/>
<path d="M110.69 631.77 l2.3 2.6 l-2.3 2.6 l-2.3 -2.6z" fill="#000"/>
<path d="M112.75 630.07 l2.3 2.6 l-2.3 2.6 l-2.3 -2.6z" fill="#000"/>
<path d="M114.81 630.47 l2.3 2.6 l-2.3 2.6 l-2.3 -2.6z" fill="#000"/>
<path d="M116.88 630.43 l2.3 2.6 l-2.3 2.6 l-2.3 -2.6z" fill="#000"/>
<path d="M118.94 628.12 l2.3 2.6 l-2.3 2.6 l-2.3 -2.6z" fill="#000"/>
<path d="M121.00 629.37 l2.3 2.6 l-2.3 2.6 l-2.3 -2.6z" fill="#000"/>
<path d="M123.06 625.56 l2.3 2.6 l-2.3 2.6 l-2.3 -2.6z" fill="#000"/>
<path d="M125.12 625.02 l2.3 2.6 l-2.3 2.6 l-2.3 -2.6z" fill="#000"/>
<path d="M127.19 617.81 l2.3 2.6 l-2.3 2.6 l-2.3 -2.6z" fill="#000"/>
<path d="M129.25 606.55 l2.3 2.6 l-2.3 2.6 l-2.3 -2.6z" fill="#000"/>
<path d="M131.31 592.90 l2.3 2.6 l-2.3 2.6 l-2.3 -2.6z" fill="#000"/>
<path d="M133.38 569.05 l2.3 2.6 l-2.3 2.6 l-2.3 -2.6z" fill="#000"/>
<path d="M135.44 560.17 l2.3 2.6 l-2.3 2.6 l-2.3 -2.6z" fill="#000"/>
<path d="M137.50 557.34 l2.3 2.6 l-2.3 2.6 l-2.3 -2.6z" fill="#000"/>
<path d="M139.56 548.72 l2.3 2.6 l-2.3 2.6 l-2.3 -2.6z" fill="#000"/>
<path d="M141.62 537.08 l2.3 2.6 l-2.3 2.6 l-2.3 -2.6z" fill="#000"/>
<path d="M143.69 544.21 l2.3 2.6 l-2.3 2.6 l-2.3 -2.6z" fill="#000"/>
<path d="M145.75 551.96 l2.3 2.6 l-2.3 2.6 l-2.3 -2.6z" fill="#000"/>
<path d="M147.81 546.31 l2.3 2.6 l-2.3 2.6 l-2.3 -2.6z" fill="#000"/>
<path d="M149.88 543.13 l2.3 2.6 l-2.3 2.6 l-2.3 -2.6z" fill="#000"/>
<path d="M151.94 539.18 l2.3 2.6 l-2.3 2.6 l-2.3 -2.6z" fill="#000"/>
<path d="M154.00 541.67 l2.3 2.6 l-2.3 2.6 l-2.3 -2.6z" fill="#000"/>
<path d="M156.06 547.59 l2.3 2.6 l-2.3 2.6 l-2.3 -2.6z" fill="#000"/>
<path d="M158.12 550.73 l2.3 2.6 l-2.3 2.6 l-2.3 -2.6z" fill="#000"/>
<path d="M160.19 552.93 l2.3 2.6 l-2.3 2.6 l-2.3 -2.6z" fill="#000"/>
<path d="M162.25 551.40 l2.3 2.6 l-2.3 2.6 l-2.3 -2.6z" fill="#000"/>
<path d="M164.31 549.29 l2.3 2.6 l-2.3 2.6 l-2.3 -2.6z" fill="#000"/>
<path d="M166.38 544.80 l2.3 2.6 l-2.3 2.6 l-2.3 -2.6z" fill="#000"/>
<path d="M168.44 542.10 l2.3 2.6 l-2.3 2.6 l-2.3 -2.6z" fill="#000"/>
<path d="M170.50 540.38 l2.3 2.6 l-2.3 2.6 l-2.3 -2.6z" fill="#000"/>
<path d="M172.56 546.15 l2.3 2.6 l-2.3 2.6 l-2.3 -2.6z" fill="#000"/>
<path d="M174.62 542.50 l2.3 2.6 l-2.3 2.6 l-2.3 -2.6z" fill="#000"/>
<path d="M176.69 542.84 l2.3 2.6 l-2.3 2.6 l-2.3 -2.6z" fill="#000"/>
<path d="M178.75 546.71 l2.3 2.6 l-2.3 2.6 l-2.3 -2.6z" fill="#000"/>
<path d="M180.81 548.85 l2.3 2.6 l-2.3 2.6 l-2.3 -2.6z" fill="#000"/>
<path d="M182.88 553.72 l2.3 2.6 l-2.3 2.6 l-2.3 -2.6z" fill="#000"/>
<path d="M184.94 556.78 l2.3 2.6 l-2.3 2.6 l-2.3 -2.6z" fill="#000"/>
<path d="M187.00 565.42 l2.3 2.6 l-2.3 2.6 l-2.3 -2.6z" fill="#000"/>
<path d="M189.06 578.17 l2.3 2.6 l-2.3 2.6 l-2.3 -2.6z" fill="#000"/>
<path d="M191.12 584.92 l2.3 2.6 l-2.3 2.6 l-2.3 -2.6z" fill="#000"/>
<path d="M193.19 597.30 l2.3 2.6 l-2.3 2.6 l-2.3 -2.6z" fill="#000"/>
<path d="M195.25 603.37 l2.3 2.6 l-2.3 2.6 l-2.3 -2.6z" fill="#000"/>
<path d="M197.31 611.63 l2.3 2.6 l-2.3 2.6 l-2.3 -2.6z" fill="#000"/>
<path d="M199.38 621.52 l2.3 2.6 l-2.3 2.6 l-2.3 -2.6z" fill="#000"/>
<path d="M201.44 629.30 l2.3 2.6 l-2.3 2.6 l-2.3 -2.6z" fill="#000"/>
<path d="M203.50 635.34 l2.3 2.6 l-2.3 2.6 l-2.3 -2.6z" fill="#000"/>
<path d="M205.56 632.55 l2.3 2.6 l-2.3 2.6 l-2.3 -2.6z" fill="#000"/>
<path d="M207.62 637.51 l2.3 2.6 l-2.3 2.6 l-2.3 -2.6z" fill="#000"/>
<path d="M209.69 635.66 l2.3 2.6 l-2.3 2.6 l-2.3 -2.6z" fill="#000"/>
<path d="M211.75 633.12 l2.3 2.6 l-2.3 2.6 l-2.3 -2.6z" fill="#000"/>
<path d="M213.81 635.99 l2.3 2.6 l-2.3 2.6 l-2.3 -2.6z" fill="#000"/>
<path d="M215.88 633.85 l2.3 2.6 l-2.3 2.6 l-2.3 -2.6z" fill="#000"/>
<path d="M217.94 637.79 l2.3 2.6 l-2.3 2.6 l-2.3 -2.6z" fill="#000"/>
<path d="M220.00 633.57 l2.3 2.6 l-2.3 2.6 l-2.3 -2.6z" fill="#000"/>
<polyline fill="none" stroke="#000" stroke-width="1.2" points="77.69,638.33 79.75,637.12 81.81,637.22 83.88,636.57 85.94,636.89 88.00,637.91 90.06,637.72 92.12,637.18 94.19,638.87 96.25,638.52 98.31,639.07 100.38,639.17 102.44,639.28 104.50,637.94 106.56,641.97 108.62,640.81 110.69,639.59 112.75,638.06 114.81,638.92 116.88,637.60 118.94,636.46 121.00,634.89 123.06,634.07 125.12,629.27 127.19,625.65 129.25,617.85 131.31,608.52 133.38,595.26 135.44,583.80 137.50,568.34 139.56,563.58 141.62,561.58 143.69,555.92 145.75,551.67 147.81,549.59 149.88,562.47 151.94,563.90 154.00,563.12 156.06,567.93 158.12,568.50 160.19,570.60 162.25,553.17 164.31,551.61 166.38,546.70 168.44,543.76 170.50,541.16 172.56,549.00 174.62,546.40 176.69,543.39 178.75,546.36 180.81,551.85 182.88,554.66 184.94,558.05 187.00,566.49 189.06,578.89 191.12,589.26 193.19,598.42 195.25,607.00 197.31,614.22 199.38,623.25 201.44,631.84 203.50,636.27 205.56,639.20 207.62,637.76 209.69,640.28 211.75,636.80 213.81,638.23 215.88,641.00 217.94,637.97 220.00,638.73"/>
<path d="M77.69 635.73 l2.3 4.4 l-4.6 0z" fill="#000"/>
<path d="M79.75 634.52 l2.3 4.4 l-4.6 0z" fill="#000"/>
<path d="M81.81 634.62 l2.3 4.4 l-4.6 0z" fill="#000"/>
<path d="M83.88 633.97 l2.3 4.4 l-4.6 0z" fill="#000"/>
<path d="M85.94 634.29 l2.3 4.4 l-4.6 0z" fill="#000"/>
<path d="M88.00 635.31 l2.3 4.4 l-4.6 0z" fill="#000"/>
<path d="M90.06 635.12 l2.3 4.4 l-4.6 0z" fill="#000"/>
<path d="M92.12 634.58 l2.3 4.4 l-4.6 0z" fill="#000"/>
<path d="M94.19 636.27 l2.3 4.4 l-4.6 0z" fill="#000"/>
<path d="M96.25 635.92 l2.3 4.4 l-4.6 0z" fill="#000"/>
<path d="M98.31 636.47 l2.3 4.4 l-4.6 0z" fill="#000"/>
<path d="M100.38 636.57 l2.3 4.4 l-4.6 0z" fill="#000"/>
<path d="M102.44 636.68 l2.3 4.4 l-4.6 0z" fill="#000"/>
<path d="M104.50 635.34 l2.3 4.4 l-4.6 0z" fill="#000"/>
<path d="M106.56 639.37 l2.3 4.4 l-4.6 0z" fill="#000"/>
<path d="M108.62 638.21 l2.3 4.4 l-4.6 0z" fill="#000"/>
<path d="M110.69 636.99 l2.3 4.4 l-4.6 0z" fill="#000"/>
<path d="M112.75 635.46 l2.3 4.4 l-4.6 0z" fill="#000"/>
<path d="M114.81 636.32 l2.3 4.4 l-4.6 0z" fill="#000"/>
<path d="M116.88 635.00 l2.3 4.4 l-4.6 0z" fill="#000"/>
<path d="M118.94 633.86 l2.3 4.4 l-4.6 0z" fill="#000"/>
<path d="M121.00 632.29 l2.3 4.4 l-4.6 0z" fill="#000"/>
<path d="M123.06 631.47 l2.3 4.4 l-4.6 0z" fill="#000"/>
<path d="M125.12 626.67 l2.3 4.4 l-4.6 0z" fill="#000"/>
<path d="M127.19 623.05 l2.3 4.4 l-4.6 0z" fill="#000"/>
<path d="M129.25 615.25 l2.3 4.4 l-4.6 0z" fill="#000"/>
<path d="M131.31 605.92 l2.3 4.4 l-4.6 0z" fill="#000"/>
<path d="M133.38 592.66 l2.3 4.4 l-4.6 0z" fill="#000"/>
<path d="M135.44 581.20 l2.3 4.4 l-4.6 0z" fill="#000"/>
<path d="M137.50 565.74 l2.3 4.4 l-4.6 0z" fill="#000"/>
<path d="M139.56 560.98 l2.3 4.4 l-4.6 0z" fill="#000"/>
<path d="M141.62 558.98 l2.3 4.4 l-4.6 0z" fill="#000"/>
<path d="M143.69 553.32 l2.3 4.4 l-4.6 0z" fill="#000"/>
<path d="M145.75 549.07 l2.3 4.4 l-4.6 0z" fill="#000"/>
<path d="M147.81 546.99 l2.3 4.4 l-4.6 0z" fill="#000"/>
<path d="M149.88 559.87 l2.3 4.4 l-4.6 0z" fill="#000"/>
<path d="M151.94 561.30 l2.3 4.4 l-4.6 0z" fill="#000"/>
<path d="M154.00 560.52 l2.3 4.4 l-4.6 0z" fill="#000"/>
<path d="M156.06 565.33 l2.3 4.4 l-4.6 0z" fill="#000"/>
<path d="M158.12 565.90 l2.3 4.4 l-4.6 0z" fill="#000"/>
<path d="M160.19 568.00 l2.3 4.4 l-4.6 0z" fill="#000"/>
<path d="M162.25 550.57 l2.3 4.4 l-4.6 0z" fill="#000"/>
<path d="M164.31 549.01 l2.3 4.4 l-4.6 0z" fill="#000"/>
<path d="M166.38 544.10 l2.3 4.4 l-4.6 0z" fill="#000"/>
<path d="M168.44 541.16 l2.3 4.4 l-4.6 0z" fill="#000"/>
<path d="M170.50 538.56 l2.3 4.4 l-4.6 0z" fill="#000"/>
<path d="M172.56 546.40 l2.3 4.4 l-4.6 0z" fill="#000"/>
<path d="M174.62 543.80 l2.3 4.4 l-4.6 0z" fill="#000"/>
<path d="M176.69 540.79 l2.3 4.4 l-4.6 0z" fill="#000"/>
<path d="M178.75 543.76 l2.3 4.4 l-4.6 0z" fill="#000"/>
<path d="M180.81 549.25 l2.3 4.4 l-4.6 0z" fill="#000"/>
<path d="M182.88 552.06 l2.3 4.4 l-4.6 0z" fill="#000"/>
<path d="M184.94 555.45 l2.3 4.4 l-4.6 0z" fill="#000"/>
<path d="M187.00 563.89 l2.3 4.4 l-4.6 0z" fill="#000"/>
<path d="M189.06 576.29 l2.3 4.4 l-4.6 0z" fill="#000"/>
<path d="M191.12 586.66 l2.3 4.4 l-4.6 0z" fill="#000"/>
<path d="M193.19 595.82 l2.3 4.4 l-4.6 0z" fill="#000"/>
<path d="M195.25 604.40 l2.3 4.4 l-4.6 0z" fill="#000"/>
<path d="M197.31 611.62 l2.3 4.4 l-4.6 0z" fill="#000"/>
<path d="M199.38 620.65 l2.3 4.4 l-4.6 0z" fill="#000"/>
<path d="M201.44 629.24 l2.3 4.4 l-4.6 0z" fill="#000"/>
<path d="M203.50 633.67 l2.3 4.4 l-4.6 0z" fill="#000"/>
<path d="M205.56 636.60 l2.3 4.4 l-4.6 0z" fill="#000"/>
<path d="M207.62 635.16 l2.3 4.4 l-4.6 0z" fill="#000"/>
<path d="M209.69 637.68 l2.3 4.4 l-4.6 0z" fill="#000"/>
<path d="M211.75 634.20 l2.3 4.4 l-4.6 0z" fill="#000"/>
<path d="M213.81 635.63 l2.3 4.4 l-4.6 0z" fill="#000"/>
<path d="M215.88 638.40 l2.3 4.4 l-4.6 0z" fill="#000"/>
<path d="M217.94 635.37 l2.3 4.4 l-4.6 0z" fill="#000"/>
<path d="M220.00 636.13 l2.3 4.4 l-4.6 0z" fill="#000"/>
<text x="276.00" y="510.00" font-size="14.5" text-anchor="start" font-weight="bold">F</text>
<text x="295.50" y="512.30" font-size="10.65" text-anchor="start" font-weight="bold">rotenone stimulation + trolox 1mM/ 1µM/ 1nM</text>
<line x1="334.25" y1="532.00" x2="334.25" y2="618.00" stroke="#000" stroke-width="1.25"/>
<line x1="331.25" y1="615.50" x2="496.80" y2="615.50" stroke="#000" stroke-width="1.25"/>
<line x1="331.25" y1="532.50" x2="334.25" y2="532.50" stroke="#000" stroke-width="1.25"/>
<text x="327.50" y="535.70" font-size="9" text-anchor="end" font-weight="bold">2</text>
<line x1="331.25" y1="574.25" x2="334.25" y2="574.25" stroke="#000" stroke-width="1.25"/>
<text x="327.50" y="577.45" font-size="9" text-anchor="end" font-weight="bold">1</text>
<line x1="331.25" y1="615.50" x2="334.25" y2="615.50" stroke="#000" stroke-width="1.25"/>
<text x="327.50" y="618.70" font-size="9" text-anchor="end" font-weight="bold">0</text>
<line x1="334.25" y1="615.50" x2="334.25" y2="618.00" stroke="#000" stroke-width="1.25"/>
<text x="334.25" y="631.60" font-size="9.5" text-anchor="middle" font-weight="bold">0</text>
<line x1="366.65" y1="615.50" x2="366.65" y2="618.00" stroke="#000" stroke-width="1.25"/>
<text x="366.65" y="631.60" font-size="9.5" text-anchor="middle" font-weight="bold">200</text>
<line x1="399.05" y1="615.50" x2="399.05" y2="618.00" stroke="#000" stroke-width="1.25"/>
<text x="399.05" y="631.60" font-size="9.5" text-anchor="middle" font-weight="bold">400</text>
<line x1="431.45" y1="615.50" x2="431.45" y2="618.00" stroke="#000" stroke-width="1.25"/>
<text x="431.45" y="631.60" font-size="9.5" text-anchor="middle" font-weight="bold">600</text>
<line x1="463.85" y1="615.50" x2="463.85" y2="618.00" stroke="#000" stroke-width="1.25"/>
<text x="463.85" y="631.60" font-size="9.5" text-anchor="middle" font-weight="bold">800</text>
<line x1="496.25" y1="615.50" x2="496.25" y2="618.00" stroke="#000" stroke-width="1.25"/>
<text x="496.25" y="631.60" font-size="9.5" text-anchor="middle" font-weight="bold">1000</text>
<text x="415.00" y="651.00" font-size="10.2" text-anchor="middle" font-weight="bold">ROS fluorescence (A.U.)</text>
<text x="292.30" y="575.00" font-size="10.5" text-anchor="middle" font-weight="bold" transform="rotate(-90 292.30 575.00)">Insulin secretion</text>
<text x="305.30" y="575.00" font-size="10.5" text-anchor="middle" font-weight="bold" transform="rotate(-90 305.30 575.00)">(ng/30 min/islet)</text>
<text x="400.50" y="567.80" font-size="10.2" text-anchor="start" font-weight="bold">r=0.883</text>
<line x1="409.50" y1="595.50" x2="484.50" y2="543.75" stroke="#000" stroke-width="1.5"/>
<path d="M410.00 587.05 l2 2.2 l-2 2.2 l-2 -2.2z" fill="#000"/>
<path d="M422.00 593.30 l2 2.2 l-2 2.2 l-2 -2.2z" fill="#000"/>
<path d="M426.50 584.05 l2 2.2 l-2 2.2 l-2 -2.2z" fill="#000"/>
<path d="M426.75 575.30 l2 2.2 l-2 2.2 l-2 -2.2z" fill="#000"/>
<path d="M435.25 582.05 l2 2.2 l-2 2.2 l-2 -2.2z" fill="#000"/>
<path d="M445.00 568.55 l2 2.2 l-2 2.2 l-2 -2.2z" fill="#000"/>
<path d="M448.25 574.05 l2 2.2 l-2 2.2 l-2 -2.2z" fill="#000"/>
<path d="M450.75 562.30 l2 2.2 l-2 2.2 l-2 -2.2z" fill="#000"/>
<path d="M458.75 547.05 l2 2.2 l-2 2.2 l-2 -2.2z" fill="#000"/>
<path d="M461.75 572.80 l2 2.2 l-2 2.2 l-2 -2.2z" fill="#000"/>
<path d="M462.25 542.30 l2 2.2 l-2 2.2 l-2 -2.2z" fill="#000"/>
<path d="M463.75 560.55 l2 2.2 l-2 2.2 l-2 -2.2z" fill="#000"/>
<path d="M466.75 544.80 l2 2.2 l-2 2.2 l-2 -2.2z" fill="#000"/>
<path d="M480.00 546.55 l2 2.2 l-2 2.2 l-2 -2.2z" fill="#000"/>
<path d="M483.50 543.30 l2 2.2 l-2 2.2 l-2 -2.2z" fill="#000"/>
</svg>
</body></html>
